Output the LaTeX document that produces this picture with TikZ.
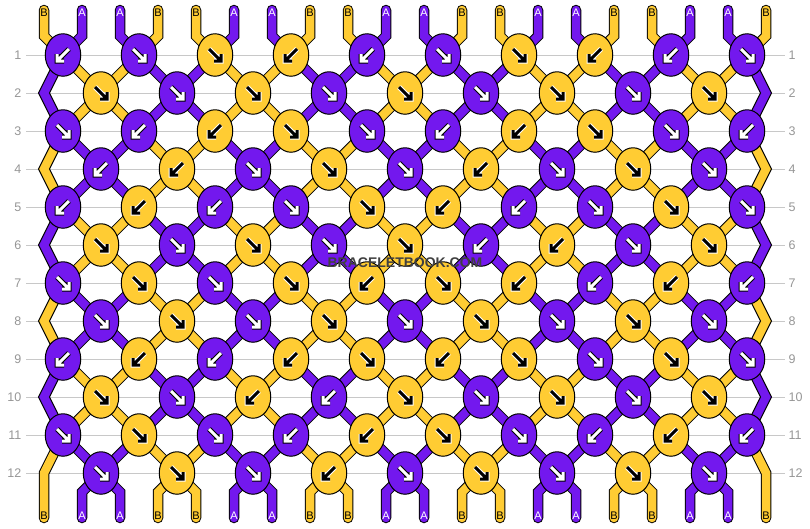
\documentclass[tikz,border=0pt]{standalone}
\usepackage{fontspec}
\setmainfont{Liberation Sans}
\usetikzlibrary{shapes.geometric,backgrounds}

\definecolor{pur}{RGB}{115,24,238}
\definecolor{yel}{RGB}{255,204,51}
\definecolor{rowline}{RGB}{200,200,200}
\definecolor{rownum}{RGB}{150,150,150}

\tikzset{
  knot/.style={ellipse, draw=black, line width=1pt, minimum width=35.5pt, minimum height=42.5pt, inner sep=0pt},
  arrow sw/.style 2 args={path picture={
    \draw[shift={(path picture bounding box.center)}, draw=#2, fill=none, line width=5pt, line cap=square] (6,-6) -- (-5,5) (1,6) -- (-6,6) -- (-6,-1);
    \draw[shift={(path picture bounding box.center)}, draw=#1, fill=none, line width=3pt, line cap=square] (6,-6) -- (-5,5) (1,6) -- (-6,6) -- (-6,-1);
  }},
  arrow se/.style 2 args={path picture={
    \draw[shift={(path picture bounding box.center)}, draw=#2, fill=none, line width=5pt, line cap=square] (-6,-6) -- (5,5) (-1,6) -- (6,6) -- (6,-1);
    \draw[shift={(path picture bounding box.center)}, draw=#1, fill=none, line width=3pt, line cap=square] (-6,-6) -- (5,5) (-1,6) -- (6,6) -- (6,-1);
  }},
  psw/.style={knot, fill=pur, arrow sw={white}{black}},
  pse/.style={knot, fill=pur, arrow se={white}{black}},
  ysw/.style={knot, fill=yel, arrow sw={black}{white}},
  yse/.style={knot, fill=yel, arrow se={black}{white}},
  strand/.style={draw=black, line width=1pt, double=#1, double distance=8.5pt},
  tail/.style={strand=#1, line cap=round},
  edgeband/.style={fill=#1, draw=black, line width=1pt},
  rowlab/.style={text=rownum, inner sep=0pt, font=\fontsize{12.5}{14}\selectfont},
  lab A/.style={text=white, inner sep=0pt, font=\fontsize{11}{13}\selectfont},
  lab B/.style={text=black, inner sep=0pt, font=\fontsize{11}{13}\selectfont},
}

\begin{document}
\begin{tikzpicture}[x=1pt, y=-1pt]
\useasboundingbox (0,0) rectangle (810,528);

% knots, row by row
\foreach \s [count=\k] in {psw,pse,yse,ysw,psw,pse,yse,ysw,psw,pse} \node[\s] (k1-\k) at ({63+76*(\k-1)},55) {};
\foreach \s [count=\k] in {yse,pse,yse,pse,yse,pse,yse,pse,yse} \node[\s] (k2-\k) at ({101+76*(\k-1)},93) {};
\foreach \s [count=\k] in {pse,psw,ysw,yse,pse,psw,ysw,yse,pse,psw} \node[\s] (k3-\k) at ({63+76*(\k-1)},131) {};
\foreach \s [count=\k] in {psw,ysw,pse,yse,pse,ysw,pse,yse,pse} \node[\s] (k4-\k) at ({101+76*(\k-1)},169) {};
\foreach \s [count=\k] in {psw,ysw,psw,pse,yse,ysw,psw,pse,yse,pse} \node[\s] (k5-\k) at ({63+76*(\k-1)},207) {};
\foreach \s [count=\k] in {yse,pse,yse,pse,yse,psw,ysw,pse,yse} \node[\s] (k6-\k) at ({101+76*(\k-1)},245) {};
\foreach \s [count=\k] in {pse,yse,pse,yse,ysw,yse,ysw,psw,ysw,psw} \node[\s] (k7-\k) at ({63+76*(\k-1)},283) {};
\foreach \s [count=\k] in {pse,yse,pse,yse,pse,yse,pse,yse,pse} \node[\s] (k8-\k) at ({101+76*(\k-1)},321) {};
\foreach \s [count=\k] in {psw,ysw,psw,ysw,yse,ysw,yse,pse,yse,pse} \node[\s] (k9-\k) at ({63+76*(\k-1)},359) {};
\foreach \s [count=\k] in {yse,pse,ysw,psw,yse,pse,yse,pse,yse} \node[\s] (k10-\k) at ({101+76*(\k-1)},397) {};
\foreach \s [count=\k] in {pse,yse,pse,psw,ysw,yse,pse,psw,ysw,psw} \node[\s] (k11-\k) at ({63+76*(\k-1)},435) {};
\foreach \s [count=\k] in {pse,yse,pse,ysw,pse,yse,pse,yse,pse} \node[\s] (k12-\k) at ({101+76*(\k-1)},473) {};

% string letters
\foreach \ltr [count=\i] in {B,A,A,B,B,A,A,B,B,A,A,B,B,A,A,B,B,A,A,B} {
  \node[lab \ltr] (t\i) at ({6+38*\i},12.5) {\ltr};
  \node[lab \ltr] (b\i) at ({6+38*\i},516) {\ltr};
}

\node[text=black!75, font=\bfseries\fontsize{14}{16}\selectfont] (wm) at (405,263) {BRACELETBOOK.COM};

\begin{scope}[on background layer]
  \foreach \r in {1,...,12} {
    \draw[rowline, line width=1pt] (26,{17+38*\r}) -- (785,{17+38*\r});
    \node[rowlab, anchor=east] (nl\r) at (21.5,{17+38*\r}) {\r};
    \node[rowlab, anchor=west] (nr\r) at (788.5,{17+38*\r}) {\r};
  }
  % loose ends on top
  \foreach \k in {1,...,10} {
    \pgfmathtruncatemacro\il{2*\k-1}
    \pgfmathtruncatemacro\ir{2*\k}
    \ifodd\k \def\lcol{yel}\def\rcol{pur}\else \def\lcol{pur}\def\rcol{yel}\fi
    \draw[tail=\lcol] (k1-\k.center) -- ++(-19,-19) -- ([yshift=2.5pt]t\il.center);
    \draw[tail=\rcol] (k1-\k.center) -- ++(19,-19) -- ([yshift=2.5pt]t\ir.center);
  }
  % strands through the even rows
  \foreach \r/\colA/\colB in {2/yel/pur,4/pur/yel,6/yel/pur,8/pur/yel,10/yel/pur} {
    \pgfmathtruncatemacro\rup{\r-1}
    \pgfmathtruncatemacro\rdn{\r+1}
    \foreach \k in {1,...,9} {
      \pgfmathtruncatemacro\kk{\k+1}
      \ifodd\k \def\scol{\colA}\else \def\scol{\colB}\fi
      \draw[strand=\scol] (k\rup-\k.center) -- (k\rdn-\kk.center);
      \draw[strand=\scol] (k\rup-\kk.center) -- (k\rdn-\k.center);
    }
    \draw[edgeband=\colB] ([xshift=-5.5pt]k\rup-1.center) -- ++(-19,38) -- ([xshift=-5.5pt]k\rdn-1.center) -- ++(11,0) -- ++(-19,-38) -- ++(19,-38) -- cycle;
    \draw[edgeband=\colB] ([xshift=5.5pt]k\rup-10.center) -- ++(19,38) -- ([xshift=5.5pt]k\rdn-10.center) -- ++(-11,0) -- ++(19,-38) -- ++(-19,-38) -- cycle;
  }
  % last row and loose ends at the bottom
  \foreach \k in {1,...,9} {
    \pgfmathtruncatemacro\kk{\k+1}
    \pgfmathtruncatemacro\il{2*\k}
    \pgfmathtruncatemacro\ir{2*\k+1}
    \ifodd\k \def\scol{pur}\else \def\scol{yel}\fi
    \draw[strand=\scol] (k11-\k.center) -- (k12-\k.center) -- (k11-\kk.center);
    \draw[tail=\scol] (k12-\k.center) -- ++(-19,19) -- ([yshift=-2pt]b\il.center);
    \draw[tail=\scol] (k12-\k.center) -- ++(19,19) -- ([yshift=-2pt]b\ir.center);
  }
  \draw[tail=yel] (k11-1.center) -- ++(-19,38) -- ([yshift=-2pt]b1.center);
  \draw[tail=yel] (k11-10.center) -- ++(19,38) -- ([yshift=-2pt]b20.center);
\end{scope}
\end{tikzpicture}
\end{document}
